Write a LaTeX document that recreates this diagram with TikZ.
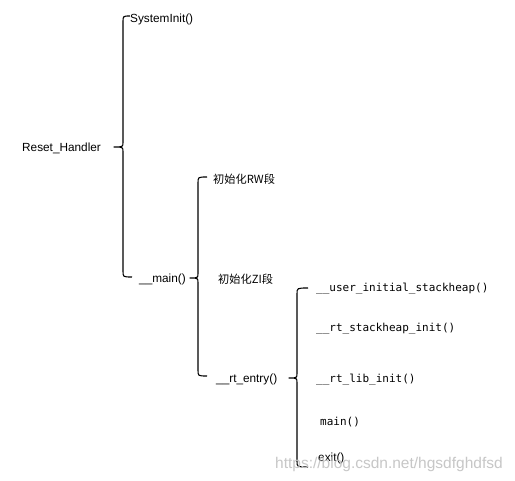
\documentclass[tikz,border=0pt]{standalone}
\usepackage{fontspec}
\setmainfont{Liberation Sans}
\setmonofont{DejaVu Sans Mono}
\newfontfamily\cjk{Noto Sans CJK SC}
\begin{document}
\begin{tikzpicture}[x=1pt,y=-1pt]
\tikzset{
  lbl/.style={anchor=west,inner sep=0pt,font=\fontsize{11.8}{14}\selectfont},
  cjklbl/.style={anchor=west,inner sep=0pt,font=\fontsize{11.2}{14}\selectfont\cjk},
  code/.style={anchor=west,inner sep=0pt,font=\fontsize{11}{14}\selectfont\ttfamily},
  brace/.style={draw=black,line width=1.1pt,line join=round},
  wm/.style={anchor=west,inner sep=0pt,text=black!22,font=\fontsize{15.5}{18}\selectfont}
}
\fill[white] (0,0) rectangle (515,481);
\useasboundingbox (0,0) rectangle (515,481);

% texts
\node[lbl] (reset) at (22,148) {Reset\_Handler};
\node[lbl] (sysinit) at (130,19) {SystemInit()};
\node[lbl] (mainfn) at (139,279) {\_\_main()};
\node[cjklbl] (rw) at (213,179) {初始化RW段};
\node[cjklbl] (zi) at (218,279) {初始化ZI段};
\node[lbl] (rtentry) at (216,379) {\_\_rt\_entry()};
\node[code] (user) at (316,289) {\_\_user\_initial\_stackheap()};
\node[code] (stack) at (316,329) {\_\_rt\_stackheap\_init()};
\node[code] (lib) at (316,380) {\_\_rt\_lib\_init()};
\node[code] (mainc) at (320,422) {main()};
\node[lbl] (exitfn) at (318,458) {exit()};

% braces
\draw[brace] (130,16) .. controls (123,16) .. (123,22) -- (123,142)
  .. controls (123,147) .. (114,147) .. controls (123,147) .. (123,152)
  -- (123,271) .. controls (123,277) .. (132,277);
\draw[brace] (207,177) .. controls (198,177) .. (198,183) -- (198,273)
  .. controls (198,278) .. (190,278) .. controls (198,278) .. (198,283)
  -- (198,370) .. controls (198,376) .. (207,376);
\draw[brace] (308,288) .. controls (297,288) .. (297,294) -- (297,373)
  .. controls (297,378) .. (289,378) .. controls (297,378) .. (297,383)
  -- (297,461) .. controls (297,467) .. (308,467);

% watermark
\node[wm] (watermark) at (275,464) {https://blog.csdn.net/hgsdfghdfsd};
\end{tikzpicture}
\end{document}
